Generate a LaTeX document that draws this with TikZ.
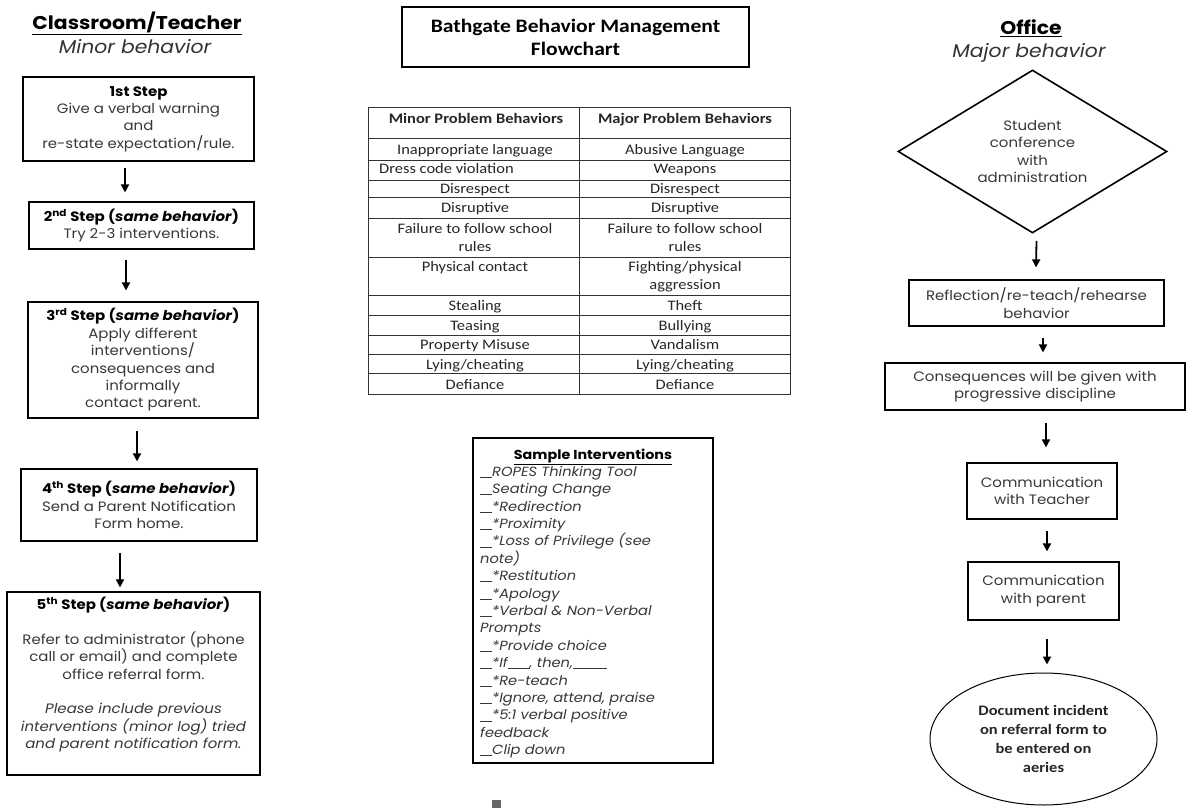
\documentclass[tikz,border=0pt]{standalone}
\usepackage{fontspec}
\setmainfont{Poppins}[FakeStretch=1.1]
\newfontfamily\calfam{Carlito}[FakeStretch=1.136]
\usetikzlibrary{shapes.geometric,arrows.meta}
\newcommand\bodyf{\fontsize{13.6}{17.4}\selectfont}
\newcommand\listf{\fontsize{13.3}{17.4}\selectfont}
\newcommand\headf{\fontsize{18.5}{22}\selectfont\bfseries}
\newcommand\subhf{\fontsize{18.5}{22}\selectfont\itshape}
\newcommand\calf{\calfam\fontsize{14.5}{18}\selectfont}
\newcommand\ttlf{\calfam\bfseries\fontsize{19}{23}\selectfont}
\newcommand\ellf{\calfam\bfseries\fontsize{14.5}{18.7}\selectfont}
\newcommand\hd[1]{{\bfseries\color{black}#1}}
\newcommand\bl[1]{\rule[-1.2pt]{#1}{0.6pt}}
\begin{document}
\begin{tikzpicture}[x=1pt,y=-1pt,
  bx/.style={draw, line width=1.2pt, inner sep=0pt, align=center, text=black!78, font=\bodyf},
  arr/.style={line width=1.8pt, -{Triangle[width=8pt,length=8pt]}},
  cell/.style={inner sep=0pt, text=black!85, font=\calf, anchor=base},
  mcell/.style={inner sep=0pt, text=black!85, font=\calf, align=center, anchor=center},
  hcell/.style={cell, font=\calf\bfseries},
  tline/.style={line width=0.8pt, black!80}]
\fill[white] (0,0) rectangle (1188,808);
\useasboundingbox (0,0) rectangle (1188,808);

% ---------- left column ----------
\node[font=\headf] (lt) at (137,23) {\underline{Classroom/Teacher}};
\node[font=\subhf, text=black!80] (ls) at (135,47) {Minor behavior};

\node[bx, minimum width=231pt, minimum height=84pt] (b1) at (138.5,119)
  {\hd{1st Step}\\Give a verbal warning\\and\\re-state expectation/rule.};
\node[bx, minimum width=225pt, minimum height=47pt] (b2) at (141.5,225.5)
  {\hd{2\textsuperscript{nd} Step (\textit{same behavior})}\\Try 2-3 interventions.};
\node[bx, minimum width=230pt, minimum height=116pt] (b3) at (143,360)
  {\hd{3\textsuperscript{rd} Step (\textit{same behavior})}\\Apply different\\interventions/\\consequences and\\informally\\contact parent.};
\node[bx, minimum width=236pt, minimum height=72pt] (b4) at (139,505)
  {\hd{4\textsuperscript{th} Step (\textit{same behavior})}\\Send a Parent Notification\\Form home.};
\node[bx, minimum width=253pt, minimum height=183pt] (b5) at (133.5,683.5)
  {\hd{5\textsuperscript{th} Step (\textit{same behavior})}\\[17.4pt]Refer to administrator (phone\\call or email) and complete\\office referral form.\\[17.4pt]\textit{Please include previous}\\\textit{interventions (minor log) tried}\\\textit{and parent notification form.}\\[4pt]};

\draw[arr] ([xshift=-13.5pt,yshift=-6pt]b1.south) -- ([xshift=-16.5pt,yshift=9pt]b2.north);
\draw[arr] ([xshift=-15.5pt,yshift=-10pt]b2.south) -- ([xshift=-17pt,yshift=11pt]b3.north);
\draw[arr] ([xshift=-6pt,yshift=-12pt]b3.south) -- ([xshift=-2pt,yshift=7pt]b4.north);
\draw[arr] ([xshift=-19pt,yshift=-11pt]b4.south) -- ([xshift=-13.5pt,yshift=4pt]b5.north);

% ---------- middle ----------
\node[draw, line width=1.3pt, minimum width=347pt, minimum height=60pt, align=center, font=\ttlf, inner sep=0pt] (title) at (575.5,37)
  {Bathgate Behavior Management\\Flowchart};

% table grid
\draw[tline] (368,107) rectangle (790,394);
\draw[tline] (579,107) -- (579,394);
\foreach \yy in {138,160,180,197,218,257,295,315,335,354,373}
  \draw[tline] (368,\yy) -- (790,\yy);

\node[hcell] (h1) at (476,123) {Minor Problem Behaviors};
\node[hcell] (h2) at (685,123) {Major Problem Behaviors};
\node[cell] (m1) at (475,154.5) {Inappropriate language};
\node[cell] (j1) at (685,154.5) {Abusive Language};
\node[cell, anchor=base west] (m2) at (379,173.5) {Dress code violation};
\node[cell] (j2) at (685,173.5) {Weapons};
\node[cell] (m3) at (475,193.5) {Disrespect};
\node[cell] (j3) at (685,193.5) {Disrespect};
\node[cell] (m4) at (475,212.5) {Disruptive};
\node[cell] (j4) at (685,212.5) {Disruptive};
\node[mcell] (m5) at (475,238) {Failure to follow school\\rules};
\node[mcell] (j5) at (685,238) {Failure to follow school\\rules};
\node[cell] (m6) at (475,271.5) {Physical contact};
\node[mcell] (j6) at (685,277) {Fighting/physical\\aggression};
\node[cell] (m7) at (475,310.5) {Stealing};
\node[cell] (j7) at (685,310.5) {Theft};
\node[cell] (m8) at (475,330.5) {Teasing};
\node[cell] (j8) at (685,330.5) {Bullying};
\node[cell] (m9) at (475,349.5) {Property Misuse};
\node[cell] (j9) at (685,349.5) {Vandalism};
\node[cell] (m10) at (475,369.5) {Lying/cheating};
\node[cell] (j10) at (685,369.5) {Lying/cheating};
\node[cell] (m11) at (475,389.5) {Defiance};
\node[cell] (j11) at (685,389.5) {Defiance};

% sample interventions
\node[draw, line width=2.6pt, minimum width=240pt, minimum height=325pt, inner sep=0pt] (sbox) at (593,600.5) {};
\node[font=\fontsize{13}{17}\selectfont\bfseries, inner sep=0pt] (stitle) at (593,457) {\underline{Sample Interventions}};
\node[font=\listf\itshape, text=black!78, align=left, anchor=north west, inner sep=0pt] (slist) at (480,466)
 {\bl{12pt}ROPES Thinking Tool\\
  \bl{12pt}Seating Change\\
  \bl{12pt}*Redirection\\
  \bl{12pt}*Proximity\\
  \bl{12pt}*Loss of Privilege (see\\
  note)\\
  \bl{12pt}*Restitution\\
  \bl{12pt}*Apology\\
  \bl{12pt}*Verbal \& Non-Verbal\\
  Prompts\\
  \bl{12pt}*Provide choice\\
  \bl{12pt}*If\bl{22pt}, then,\bl{34pt}\\
  \bl{12pt}*Re-teach\\
  \bl{12pt}*Ignore, attend, praise\\
  \bl{12pt}*5:1 verbal positive\\
  feedback\\
  \bl{12pt}Clip down};
\fill[black!60] (492,800) rectangle (501,808);

% ---------- right column ----------
\node[font=\headf] (rt) at (1031,28) {\underline{Office}};
\node[font=\subhf, text=black!80] (rs) at (1029,53) {Major behavior};

\node[diamond, aspect=1.65, draw, line width=1.6pt, minimum width=269pt, minimum height=163pt, inner sep=0pt, align=center, font=\bodyf, text=black!78] (d) at (1032.5,151.5)
  {Student\\conference\\with\\administration};
\node[bx, minimum width=255pt, minimum height=46pt] (r1) at (1036.5,303)
  {Reflection/re-teach/rehearse\\behavior};
\node[bx, minimum width=300pt, minimum height=47pt] (r2) at (1035,386.5)
  {Consequences will be given with\\progressive discipline};
\node[bx, minimum width=150pt, minimum height=56pt] (r3) at (1042,491)
  {Communication\\with Teacher};
\node[bx, minimum width=151pt, minimum height=58pt] (r4) at (1043.5,591)
  {Communication\\with parent};
\node[ellipse, draw, line width=1pt, minimum width=227pt, minimum height=132pt, inner sep=0pt, align=center, font=\ellf, text=black!85] (e) at (1043.5,739)
  {Document incident\\on referral form to\\be entered on\\aeries};

\draw[arr] ([xshift=4pt,yshift=-7pt]d.south) -- ([xshift=-0.5pt,yshift=12pt]r1.north);
\draw[arr] ([xshift=6.5pt,yshift=-11pt]r1.south) -- ([xshift=8pt,yshift=10pt]r2.north);
\draw[arr] ([xshift=11pt,yshift=-12pt]r2.south) -- ([xshift=4pt,yshift=15pt]r3.north);
\draw[arr] ([xshift=5pt,yshift=-11pt]r3.south) -- ([xshift=3.5pt,yshift=10pt]r4.north);
\draw[arr] ([xshift=3.5pt,yshift=-18pt]r4.south) -- ([xshift=3.5pt,yshift=8pt]e.north);
\end{tikzpicture}
\end{document}
